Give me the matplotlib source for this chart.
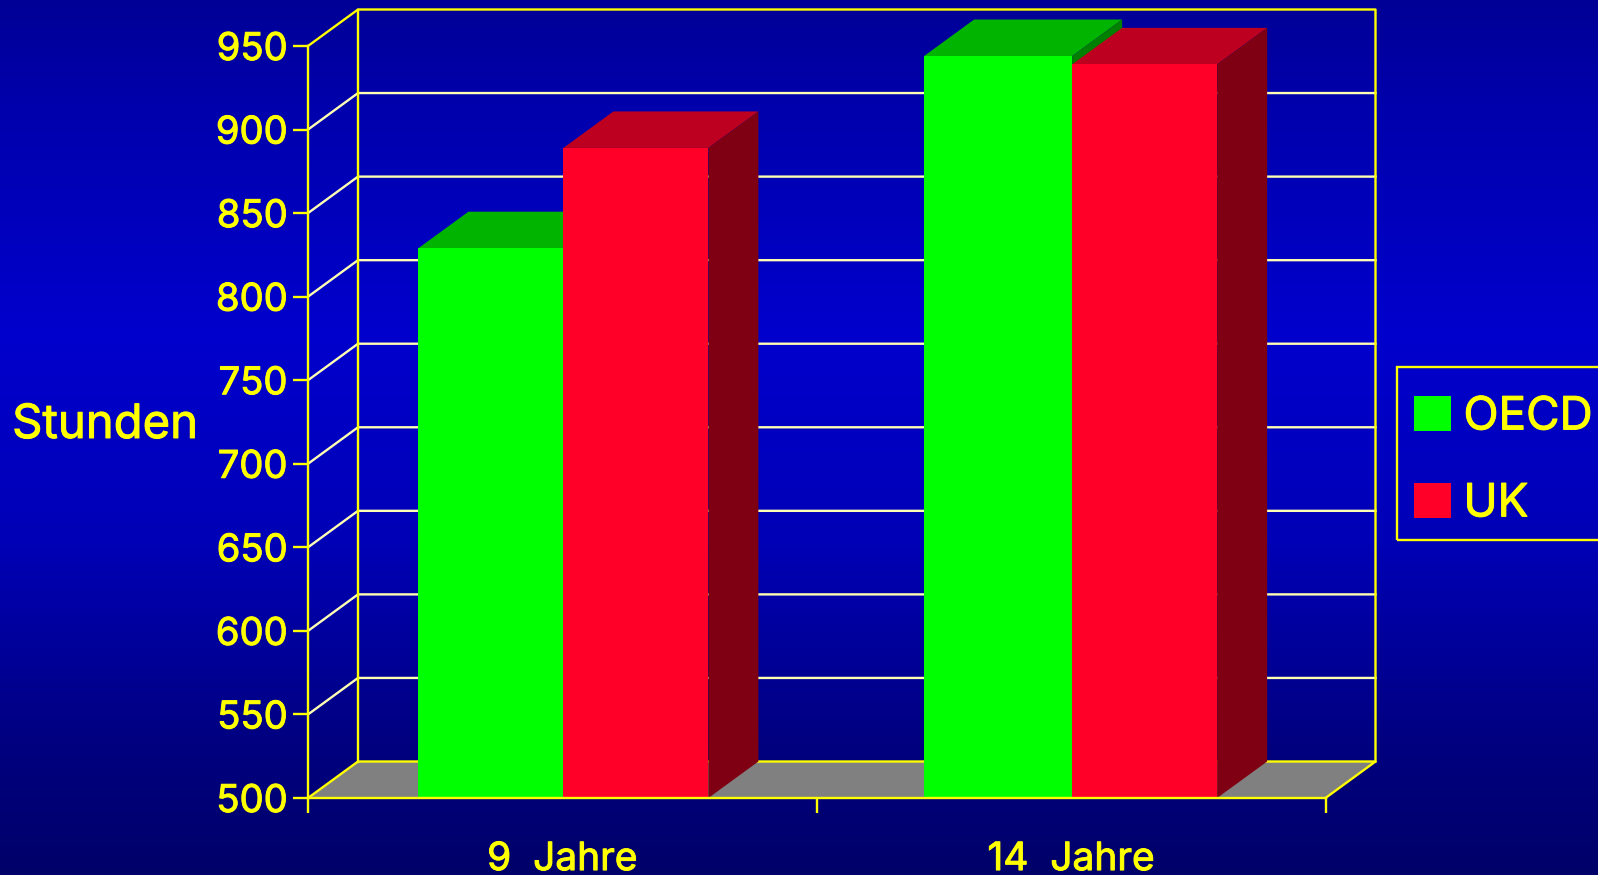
import numpy as np
import matplotlib
matplotlib.use('Agg')
import matplotlib.pyplot as plt
import matplotlib.patheffects as pe
from matplotlib.patches import Polygon, Patch, Rectangle

# ---- Data ----
categories = ['9  Jahre', '14  Jahre']
series_names = ['OECD', 'UK']
oecd_hours = [829, 944]
uk_hours = [889, 939]
y_ticks = [500, 550, 600, 650, 700, 750, 800, 850, 900, 950]

# ---- Colours ----
YELLOW = '#ffff00'
GRID = '#ffffb4'
FLOOR = '#808080'
FRONT = ['#00ff00', '#ff0029']
TOP = ['#00b400', '#bd001f']
SIDE = ['#008000', '#7f0012']

W, H = 1598, 875
LW = 1.7
plt.rcParams['font.family'] = ['Inter', 'DejaVu Sans']
heavy = [pe.withStroke(linewidth=0.7, foreground=YELLOW)]

fig = plt.figure(figsize=(W / 100, H / 100), dpi=100)

# ---- Background gradient ----
bg = fig.add_axes([0, 0, 1, 1], zorder=0)
rows = np.linspace(0, 1, H)
blue = np.interp(rows, [0, 0.12, 0.38, 0.62, 0.85, 1], [150, 172, 205, 182, 128, 105])
img = np.zeros((H, 1, 3))
img[:, 0, 2] = blue / 255
bg.imshow(img, aspect='auto')
bg.axis('off')

# ---- Front plane of the box ----
left, right, bottom, top = 308, 1325.5, 798, 46
ax = fig.add_axes([left / W, (H - bottom) / H, (right - left) / W, (bottom - top) / H], zorder=1)
ax.patch.set_alpha(0)
ax.set_xlim(0, 2)
ax.set_ylim(500, 950)

# depth of the fake 3d box, in data units
dx = 50 / ((right - left) / 2)
dy = 36.5 / ((bottom - top) / 450)

xmax = 2
ymin = 500
ymax = 950


def poly(points, color, z):
    ax.add_patch(Polygon(points, closed=True, facecolor=color, edgecolor='none', clip_on=False, zorder=z))


def line(xs, ys, color, z=1.5):
    ax.plot(xs, ys, color=color, linewidth=LW, clip_on=False, zorder=z, solid_capstyle='projecting')


# floor
poly([(0, ymin), (xmax, ymin), (xmax + dx, ymin + dy), (dx, ymin + dy)], FLOOR, 1)

# walls and grid
for v in y_ticks[1:-1]:
    line([0, dx, xmax + dx], [v, v + dy, v + dy], GRID)
line([0, dx, xmax + dx, xmax + dx], [ymax, ymax + dy, ymax + dy, ymin + dy], YELLOW)
line([dx, dx], [ymin + dy, ymax + dy], YELLOW)
line([0, dx, xmax + dx, xmax], [ymin, ymin + dy, ymin + dy, ymin], YELLOW)

# ---- Bars ----
bar_w = 0.285
centers = np.arange(len(categories)) + 0.5
left_extra = [0, 0.006]  # green bar of second group is a bit wider
z = 2.0
for g, (c, a, b) in enumerate(zip(centers, oecd_hours, uk_hours)):
    for i, val in enumerate([a, b]):
        x0 = c + (i - 1) * bar_w + 0.002
        x1 = x0 + bar_w
        if i == 0:
            x0 -= left_extra[g]
        poly([(x0, val), (x1, val), (x1 + dx, val + dy), (x0 + dx, val + dy)], TOP[i], z)
        poly([(x1, ymin), (x1 + dx, ymin + dy), (x1 + dx, val + dy), (x1, val)], SIDE[i], z)
        ax.bar(x0, val - ymin, x1 - x0, bottom=ymin, align='edge', color=FRONT[i], zorder=z + 0.01)
        z += 0.02

# ---- Axes ----
for s in ['top', 'right']:
    ax.spines[s].set_visible(False)
for s in ['left', 'bottom']:
    ax.spines[s].set_color(YELLOW)
    ax.spines[s].set_linewidth(LW)
    ax.spines[s].set_zorder(5)

ax.set_yticks(y_ticks)
ax.set_yticklabels([str(v) for v in y_ticks])
ax.tick_params(axis='y', colors=YELLOW, length=10.8, width=LW, pad=4, labelsize=27.5)
ax.set_xticks([0, 1, 2])
ax.set_xticklabels([])
ax.tick_params(axis='x', which='major', colors=YELLOW, length=10.8, width=LW)
ax.set_xticks(centers, minor=True)
ax.set_xticklabels(categories, minor=True)
ax.tick_params(axis='x', which='minor', colors=YELLOW, length=0, pad=31, labelsize=28)
for lab in ax.get_yticklabels() + ax.get_xticklabels(minor=True):
    lab.set_path_effects(heavy)

fig.text(105 / W, 1 - 426 / H, 'Stunden', color=YELLOW, fontsize=34, ha='center', va='center',
         path_effects=heavy)

# ---- Legend ----
fig.add_artist(Rectangle((1397 / W, 1 - 540 / H), 300 / W, 173 / H, transform=fig.transFigure,
                         facecolor='none', edgecolor=YELLOW, linewidth=LW, zorder=3))
handles = [Patch(facecolor=FRONT[i], edgecolor='none', label=series_names[i]) for i in range(2)]
leg = fig.legend(handles=handles, loc='upper left', bbox_to_anchor=(1414 / W, 1 - 396 / H),
                 fontsize=33, frameon=False, labelcolor=YELLOW, borderaxespad=0, borderpad=0,
                 labelspacing=0.97, handlelength=0.8, handleheight=0.8, handletextpad=0.28)
for t in leg.get_texts():
    t.set_path_effects(heavy)

plt.savefig('out.png', dpi=100)
